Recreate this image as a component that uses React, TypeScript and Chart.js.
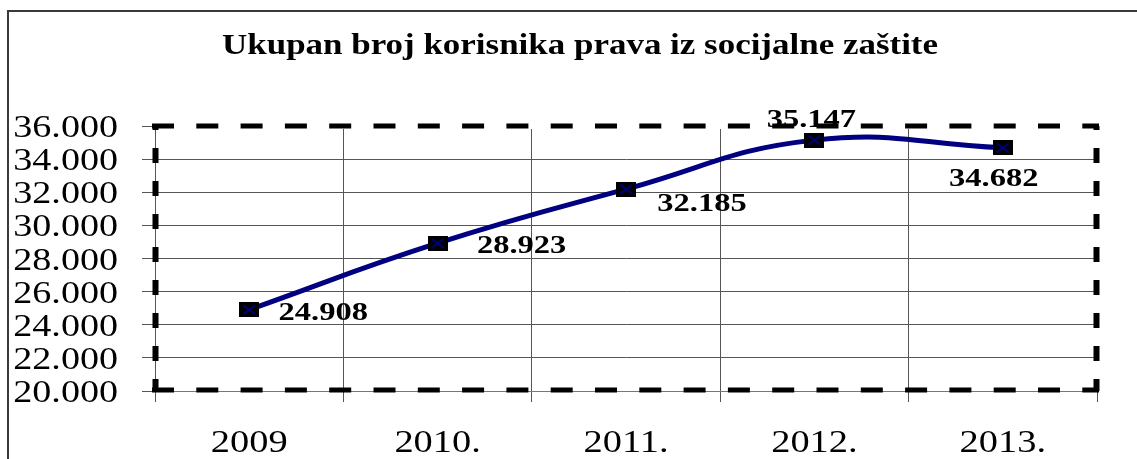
import { useEffect, useRef } from 'react';
import { Chart, registerables } from 'chart.js';

Chart.register(...registerables);

const chartTitle = 'Ukupan broj korisnika prava iz socijalne zaštite';
const categories = ['2009', '2010.', '2011.', '2012.', '2013.'];
const beneficiaries = [24908, 28923, 32185, 35147, 34682];
const yMin = 20000;
const yMax = 36000;
const yStep = 2000;
// label placement relative to each point: [dx of text centre, dy of baseline]
const labelOffsets = [
  [74, 10],
  [84, 10],
  [76, 22],
  [-3, -13],
  [-9, 38],
];

const fmt = (v: number) => Math.round(v).toString().replace(/\B(?=(\d{3})+(?!\d))/g, '.');

function stretchedText(ctx: CanvasRenderingContext2D, text: string, x: number, y: number, align: CanvasTextAlign, sx: number) {
  ctx.save();
  ctx.translate(x, y);
  ctx.scale(sx, 1);
  ctx.textAlign = align;
  ctx.textBaseline = 'alphabetic';
  ctx.fillText(text, 0, 0);
  ctx.restore();
}

function makeMarker() {
  const c = document.createElement('canvas');
  c.width = 20;
  c.height = 15;
  const g = c.getContext('2d')!;
  g.fillStyle = '#000';
  g.fillRect(0, 0, 20, 15);
  g.strokeStyle = '#000080';
  g.lineWidth = 2;
  g.beginPath();
  g.moveTo(4, 3);
  g.lineTo(16, 12);
  g.moveTo(16, 3);
  g.lineTo(4, 12);
  g.stroke();
  return c;
}

const decor = {
  id: 'decor',
  beforeDraw(chart: any) {
    const ctx: CanvasRenderingContext2D = chart.ctx;
    ctx.save();
    ctx.fillStyle = '#fff';
    ctx.fillRect(0, 0, chart.width, chart.height);
    ctx.strokeStyle = '#3a3a3a';
    ctx.lineWidth = 2;
    ctx.beginPath();
    ctx.moveTo(8, chart.height);
    ctx.lineTo(8, 11);
    ctx.lineTo(chart.width, 11);
    ctx.stroke();
    ctx.restore();
  },
  afterDraw(chart: any) {
    const ctx: CanvasRenderingContext2D = chart.ctx;
    const a = chart.chartArea;
    const xs = chart.scales.x;
    const ys = chart.scales.y;
    ctx.save();
    ctx.lineCap = 'butt';
    // white under top/right edges
    ctx.strokeStyle = '#fff';
    ctx.lineWidth = 6;
    ctx.setLineDash([]);
    ctx.beginPath();
    ctx.moveTo(a.left + 4, a.top);
    ctx.lineTo(a.right, a.top);
    ctx.lineTo(a.right, a.bottom - 3);
    ctx.stroke();
    // horizontal dashed edges
    ctx.strokeStyle = '#000';
    ctx.lineWidth = 5;
    ctx.setLineDash([22, 22.3]);
    ctx.lineDashOffset = 0;
    [a.top, a.bottom - 1].forEach((y: number) => {
      ctx.beginPath();
      ctx.moveTo(a.left - 3, y);
      ctx.lineTo(a.right + 2, y);
      ctx.stroke();
    });
    // vertical dashed edges
    ctx.lineWidth = 6;
    ctx.setLineDash([15, 18]);
    ctx.lineDashOffset = 11;
    [a.left + 0.5, a.right - 0.5].forEach((x: number) => {
      ctx.beginPath();
      ctx.moveTo(x, a.top);
      ctx.lineTo(x, a.bottom);
      ctx.stroke();
    });
    ctx.setLineDash([]);

    ctx.fillStyle = '#000';
    // title
    ctx.font = 'bold 30px "Liberation Serif", "Times New Roman", serif';
    const w = ctx.measureText(chartTitle).width;
    stretchedText(ctx, chartTitle, 580, 54, 'center', 716 / w);

    // y tick labels
    ctx.font = '32px "Liberation Serif", "Times New Roman", serif';
    ys.ticks.forEach((t: any) => {
      const y = ys.getPixelForValue(t.value);
      stretchedText(ctx, fmt(t.value), a.left - 37, y + 11, 'right', 1.19);
    });
    // x tick labels
    categories.forEach((c, i) => {
      const x = xs.getPixelForValue(i);
      stretchedText(ctx, c, x, a.bottom + 61, 'center', 1.2);
    });
    // data labels
    ctx.font = 'bold 26px "Liberation Serif", "Times New Roman", serif';
    const meta = chart.getDatasetMeta(0);
    meta.data.forEach((el: any, i: number) => {
      const [dx, dy] = labelOffsets[i];
      stretchedText(ctx, fmt(beneficiaries[i]), el.x + dx, el.y + dy, 'center', 1.25);
    });
    ctx.restore();
  },
};

export default function App() {
  const ref = useRef<HTMLCanvasElement>(null);
  useEffect(() => {
    if (!ref.current) return;
    const chart = new Chart(ref.current, {
      type: 'line',
      data: {
        labels: categories,
        datasets: [
          {
            data: beneficiaries,
            borderColor: '#000080',
            borderWidth: 5,
            tension: 0.45,
            fill: false,
            pointStyle: makeMarker() as any,
            pointRadius: 8,
            pointHoverRadius: 8,
          },
        ],
      },
      options: {
        responsive: false,
        animation: false,
        devicePixelRatio: 1,
        events: [],
        layout: { padding: { top: 126, right: 40, left: 0, bottom: 0 } },
        plugins: {
          legend: { display: false },
          title: { display: false },
          tooltip: { enabled: false },
        },
        scales: {
          x: {
            type: 'category',
            offset: true,
            grid: { offset: true, color: '#555', lineWidth: 1, drawTicks: true, tickLength: 11 },
            border: { display: true, color: '#777' },
            ticks: { display: false },
            afterFit: (s: any) => {
              s.height = 68;
            },
          },
          y: {
            min: yMin,
            max: yMax,
            ticks: { display: false, stepSize: yStep },
            grid: { color: '#555', lineWidth: 1, drawTicks: true, tickLength: 13 },
            border: { display: true, color: '#555' },
            afterFit: (s: any) => {
              s.width = 155;
            },
          },
        },
      },
      plugins: [decor],
    });
    return () => chart.destroy();
  }, []);
  return (
    <div style={{ position: 'fixed', left: 0, top: 0, width: 1137, height: 459 }}>
      <canvas ref={ref} width={1137} height={459} />
    </div>
  );
}
